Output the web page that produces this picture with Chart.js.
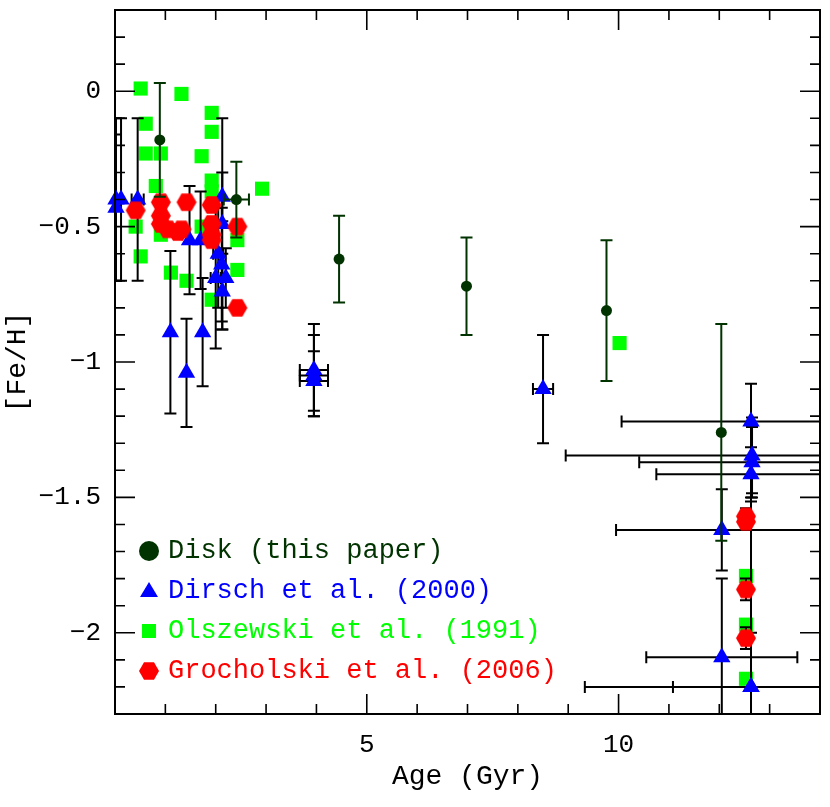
<!DOCTYPE html>
<html>
<head>
<meta charset="utf-8">
<script src="https://cdn.jsdelivr.net/npm/chart.js@4.4.1/dist/chart.umd.min.js"></script>
<style>
  html, body { margin: 0; padding: 0; background: #fff; }
</style>
</head>
<body>
<canvas id="chart" width="830" height="807"></canvas>
<script>
// Disk (this paper)
const diskAge    = [0.89, 2.41, 4.45, 6.98, 9.76, 12.04];
const diskFeH    = [-0.18, -0.40, -0.62, -0.72, -0.81, -1.26];
const diskAgeErr = [0, 0.25, 0, 0, 0, 0];
const diskFeHErr = [0.21, 0.14, 0.16, 0.18, 0.26, 0.40];

// Dirsch et al. (2000)
const dirschAge    = [0.02, 0.12, 0.02, 0.45, 1.10, 1.42, 1.74, 1.48, 1.70, 2.13, 2.13, 2.05, 2.12, 2.00, 2.20, 2.13,
                      3.95, 3.95, 3.95, 8.50, 12.63, 12.65, 12.65, 12.63, 12.05, 12.05, 12.63, 12.63];
const dirschFeH    = [-0.40, -0.40, -0.43, -0.40, -0.89, -1.04, -0.89, -0.55, -0.55, -0.39, -0.49, -0.60, -0.64, -0.69, -0.69, -0.74,
                      -1.03, -1.05, -1.07, -1.10, -1.22, -1.345, -1.37, -1.415, -1.62, -2.09, -2.20, -2.20];
const dirschAgeErr = [0, 0, 0, 0.12, 0, 0, 0, 0, 0, 0, 0, 0.10, 0, 0.10, 0, 0,
                      0.28, 0.28, 0.28, 0.20, 2.57, 3.70, 2.24, 1.88, 2.10, 1.50, 3.30, 1.55];
const dirschFeHErr = [0.30, 0.30, 0.27, 0.30, 0.30, 0.20, 0.20, 0.20, 0.18, 0.09, 0.39, 0.20, 0.21, 0.26, 0.11, 0.14,
                      0.17, 0.15, 0.11, 0.20, 0.14, 0.14, 0.13, 0.10, 0.15, 0.29, 0.70, 0.20];

// Olszewski et al. (1991)
const olszAge = [0.51, 1.32, 1.92, 1.92, 0.61, 0.61, 0.91, 1.72, 0.81, 1.92, 1.92, 2.92, 0.41, 1.72, 0.91,
                 2.43, 0.51, 1.11, 1.42, 2.43, 1.92, 10.02, 12.53, 12.53, 12.53];
const olszFeH = [0.01, -0.01, -0.08, -0.15, -0.12, -0.23, -0.23, -0.24, -0.35, -0.33, -0.37, -0.36, -0.50, -0.50, -0.53,
                 -0.55, -0.61, -0.67, -0.70, -0.66, -0.77, -0.93, -1.79, -1.97, -2.17];

// Grocholski et al. (2006)
const grochAge    = [0.41, 0.91, 0.91, 0.91, 1.05, 1.25, 1.32, 1.42, 1.92, 1.92, 1.92, 1.92, 2.43, 2.43,
                     12.53, 12.53, 12.53, 12.53];
const grochFeH    = [-0.44, -0.41, -0.46, -0.49, -0.51, -0.52, -0.51, -0.41, -0.42, -0.49, -0.53, -0.55, -0.50, -0.80,
                     -1.57, -1.59, -1.84, -2.02];
const grochFeHErr = [0, 0, 0, 0, 0, 0, 0, 0, 0, 0, 0, 0, 0, 0, 0.03, 0.03, 0.04, 0.04];

const xTickLabels = [5, 10];
const yTickLabels = [0, -0.5, -1, -1.5, -2];

const FONT = '"Liberation Mono", "DejaVu Sans Mono", monospace';
const DISK = '#003300', BLUE = '#0000ff', GREEN = '#00ff00', RED = '#ff0000';
const CAP = 6;

const pts = (xs, ys) => xs.map((x, i) => ({ x, y: ys[i] }));

function hexagon(r, color) {
  const c = document.createElement('canvas');
  c.width = Math.ceil(2 * r + 2);
  c.height = Math.ceil(2 * r + 2);
  const g = c.getContext('2d');
  g.fillStyle = color;
  g.beginPath();
  for (let i = 0; i < 6; i++) {
    const a = Math.PI / 3 * i;
    const px = c.width / 2 + r * Math.cos(a), py = c.height / 2 + r * Math.sin(a);
    i ? g.lineTo(px, py) : g.moveTo(px, py);
  }
  g.closePath();
  g.fill();
  return c;
}
const hexMark = hexagon(10, RED);

// error bars drawn under each dataset's markers
const errorBars = {
  id: 'errorBars',
  beforeDatasetDraw(chart, args) {
    const ds = chart.data.datasets[args.index];
    if (!ds.xErr && !ds.yErr) return;
    const { ctx, chartArea: a, scales: { x, y } } = chart;
    ctx.save();
    ctx.beginPath();
    ctx.rect(a.left, a.top, a.width, a.height);
    ctx.clip();
    ctx.strokeStyle = ds.errColor || '#000';
    ctx.lineWidth = 2;
    ds.data.forEach((p, i) => {
      const px = x.getPixelForValue(p.x), py = y.getPixelForValue(p.y);
      const ex = ds.xErr ? ds.xErr[i] : 0, ey = ds.yErr ? ds.yErr[i] : 0;
      ctx.beginPath();
      if (ey) {
        const t = y.getPixelForValue(p.y + ey), b = y.getPixelForValue(p.y - ey);
        ctx.moveTo(px, t); ctx.lineTo(px, b);
        ctx.moveTo(px - CAP, t); ctx.lineTo(px + CAP, t);
        ctx.moveTo(px - CAP, b); ctx.lineTo(px + CAP, b);
      }
      if (ex) {
        const l = x.getPixelForValue(p.x - ex), r = x.getPixelForValue(p.x + ex);
        ctx.moveTo(l, py); ctx.lineTo(r, py);
        ctx.moveTo(l, py - CAP); ctx.lineTo(l, py + CAP);
        ctx.moveTo(r, py - CAP); ctx.lineTo(r, py + CAP);
      }
      ctx.stroke();
    });
    ctx.restore();
  }
};

// box with inward ticks on all four sides
const frame = {
  id: 'frame',
  afterDraw(chart) {
    const { ctx, chartArea: a, scales: { x, y } } = chart;
    ctx.save();
    ctx.strokeStyle = '#000';
    ctx.lineWidth = 1.6;
    ctx.beginPath();
    x.ticks.forEach(t => {
      const px = x.getPixelForValue(t.value);
      const len = xTickLabels.includes(t.value) ? 20 : 10;
      ctx.moveTo(px, a.bottom); ctx.lineTo(px, a.bottom - len);
      ctx.moveTo(px, a.top); ctx.lineTo(px, a.top + len);
    });
    y.ticks.forEach(t => {
      const py = y.getPixelForValue(t.value);
      const len = yTickLabels.includes(Math.round(t.value * 10) / 10) ? 20 : 10;
      ctx.moveTo(a.left, py); ctx.lineTo(a.left + len, py);
      ctx.moveTo(a.right, py); ctx.lineTo(a.right - len, py);
    });
    ctx.stroke();
    ctx.lineWidth = 2;
    ctx.strokeRect(a.left, a.top, a.width, a.height);
    ctx.restore();
  }
};

// legend inside the lower left corner
const legendBox = {
  id: 'legendBox',
  afterDraw(chart) {
    const { ctx, chartArea: a } = chart;
    const mx = a.left + 34, tx = a.left + 53;
    let ty = a.bottom - 163;
    ctx.save();
    ctx.font = '27px ' + FONT;
    ctx.textBaseline = 'middle';
    chart.data.datasets.forEach(ds => {
      ctx.fillStyle = ds.backgroundColor;
      ctx.beginPath();
      if (ds.legendMark === 'circle') {
        ctx.arc(mx, ty, 10, 0, Math.PI * 2);
        ctx.fill();
      } else if (ds.legendMark === 'triangle') {
        ctx.moveTo(mx, ty - 9); ctx.lineTo(mx + 9, ty + 6); ctx.lineTo(mx - 9, ty + 6);
        ctx.closePath(); ctx.fill();
      } else if (ds.legendMark === 'rect') {
        ctx.fillRect(mx - 7, ty - 7, 14, 14);
      } else {
        ctx.drawImage(hexMark, mx - hexMark.width / 2, ty - hexMark.height / 2);
      }
      ctx.fillText(ds.label, tx, ty);
      ty += 40;
    });
    ctx.restore();
  }
};

new Chart(document.getElementById('chart'), {
  type: 'scatter',
  data: {
    datasets: [
      {
        label: 'Disk (this paper)', data: pts(diskAge, diskFeH),
        xErr: diskAgeErr, yErr: diskFeHErr, errColor: DISK,
        pointStyle: 'circle', pointRadius: 5.5, backgroundColor: DISK, borderWidth: 0,
        legendMark: 'circle', order: 0, clip: false
      },
      {
        label: 'Dirsch et al. (2000)', data: pts(dirschAge, dirschFeH),
        xErr: dirschAgeErr, yErr: dirschFeHErr,
        pointStyle: 'triangle', pointRadius: 10, backgroundColor: BLUE, borderWidth: 0,
        legendMark: 'triangle', order: 2, clip: false
      },
      {
        label: 'Olszewski et al. (1991)', data: pts(olszAge, olszFeH),
        pointStyle: 'rect', pointRadius: 10, backgroundColor: GREEN, borderWidth: 0,
        legendMark: 'rect', order: 3, clip: false
      },
      {
        label: 'Grocholski et al. (2006)', data: pts(grochAge, grochFeH),
        yErr: grochFeHErr,
        pointStyle: hexMark, pointRadius: 10, backgroundColor: RED, borderWidth: 0,
        legendMark: 'hex', order: 1, clip: false
      }
    ]
  },
  options: {
    responsive: false,
    animation: false,
    devicePixelRatio: 1,
    layout: { padding: { left: 0, top: 8, right: 8, bottom: 0 } },
    plugins: { legend: { display: false }, tooltip: { enabled: false } },
    scales: {
      x: {
        type: 'linear', min: 0, max: 14,
        grid: { display: false, drawTicks: false },
        border: { display: false },
        ticks: {
          stepSize: 1, autoSkip: false, maxRotation: 0, padding: 16,
          color: '#000', font: { family: FONT, size: 26 },
          callback: v => xTickLabels.includes(v) ? String(v) : ''
        },
        title: {
          display: true, text: 'Age (Gyr)', color: '#000',
          font: { family: FONT, size: 28 }, padding: { top: 0, bottom: 14 }
        },
        afterFit: s => { s.height = 93; s.paddingLeft = 0; s.paddingRight = 0; }
      },
      y: {
        type: 'linear', min: -2.3, max: 0.3,
        grid: { display: false, drawTicks: false },
        border: { display: false },
        ticks: {
          stepSize: 0.1, autoSkip: false, padding: 14,
          color: '#000', font: { family: FONT, size: 26 },
          callback: v => {
            const r = Math.round(v * 10) / 10;
            if (!yTickLabels.includes(r)) return '';
            return r === 0 ? '0' : '\u2212' + Math.abs(r);
          }
        },
        title: {
          display: true, text: '[Fe/H]', color: '#000',
          font: { family: FONT, size: 28 }, padding: { top: 1, bottom: 0 }
        },
        afterFit: s => { s.width = 115; s.paddingTop = 0; s.paddingBottom = 0; }
      }
    }
  },
  plugins: [errorBars, frame, legendBox]
});
</script>
</body>
</html>
